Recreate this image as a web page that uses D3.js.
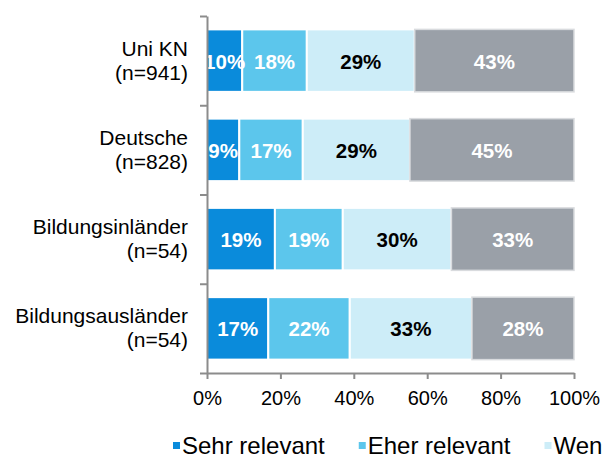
<!DOCTYPE html>
<html>
<head>
<meta charset="utf-8">
<script src="https://cdn.jsdelivr.net/npm/d3@7"></script>
<style>
  html, body { margin: 0; padding: 0; background: #fff; overflow: hidden; }
  text { font-family: "Liberation Sans", Arial, sans-serif; }
</style>
</head>
<body>
<div id="chart"></div>
<script>
const groups = ["Uni KN", "Deutsche", "Bildungsinländer", "Bildungsausländer"];
const sampleSizes = ["(n=941)", "(n=828)", "(n=54)", "(n=54)"];
const categories = ["Sehr relevant", "Eher relevant", "Wenig relevant", "Nicht relevant"];

// shares in percent, one array per answer category (order = groups)
const sehr = [9.6, 8.8, 18.5, 16.7];
const eher = [17.6, 17.3, 18.5, 22.2];
const wenig = [29.4, 29.2, 29.6, 33.3];
const nicht = [43.4, 44.7, 33.4, 27.8];

const xTicks = [0, 20, 40, 60, 80, 100];

const colors = ["#0a8bdb", "#5cc6ec", "#cdedf8", "#9aa0a8"];
const labelColors = ["#fff", "#fff", "#000", "#fff"];

const width = 603, height = 461;
const margin = { top: 16, right: 29, bottom: 88, left: 207 };

const svg = d3.select("#chart")
  .append("svg")
  .attr("width", width)
  .attr("height", height);

const x = d3.scaleLinear()
  .domain([0, 100])
  .range([margin.left, width - margin.right]);

const y = d3.scaleBand()
  .domain(groups)
  .range([margin.top, height - margin.bottom])
  .padding(0);

const yTicks = d3.scaleLinear()
  .domain([0, groups.length])
  .range([margin.top, height - margin.bottom]);

const barH = y.bandwidth() * 0.7;

// stack the series
const rows = groups.map((g, i) => {
  const vals = [sehr[i], eher[i], wenig[i], nicht[i]];
  let acc = 0;
  return vals.map((v, k) => {
    const seg = { group: g, k: k, value: v, x0: acc, x1: acc + v };
    acc += v;
    return seg;
  });
});

const bars = svg.append("g");

rows.forEach((segs) => {
  const g = bars.append("g");
  const yc = y(segs[0].group) + y.bandwidth() / 2;

  g.selectAll("rect")
    .data(segs)
    .enter()
    .append("rect")
    .attr("x", (d) => x(d.x0))
    .attr("y", yc - barH / 2)
    .attr("width", (d) => x(d.x1) - x(d.x0))
    .attr("height", barH)
    .style("fill", (d) => colors[d.k])
    .style("stroke", (d) => (d.k === 3 ? "#d9dbde" : "#fff"))
    .style("stroke-width", (d) => (d.k === 3 ? 1.5 : 2));

  g.selectAll("text")
    .data(segs)
    .enter()
    .append("text")
    .attr("x", (d) => (x(d.x0) + x(d.x1)) / 2)
    .attr("y", yc + 8)
    .attr("text-anchor", "middle")
    .style("font-size", "20.5px")
    .style("font-weight", "bold")
    .style("fill", (d) => labelColors[d.k])
    .text((d) => Math.round(d.value) + "%");
});

// left axis (ticks between categories)
svg.append("g")
  .attr("transform", `translate(${margin.left},0)`)
  .call(d3.axisLeft(yTicks).tickValues(d3.range(0, groups.length + 1)).tickFormat("").tickSize(7).tickSizeOuter(0))
  .call((g) => g.selectAll("path, line").style("stroke", "#8c8c8c").style("stroke-width", 2));

// bottom axis
svg.append("g")
  .attr("transform", `translate(0,${height - margin.bottom})`)
  .call(d3.axisBottom(x).tickValues(xTicks).tickFormat((d) => d + "%").tickSize(6).tickSizeOuter(0))
  .call((g) => g.selectAll("path, line").style("stroke", "#8c8c8c").style("stroke-width", 2))
  .call((g) => g.selectAll("text")
    .attr("y", 0)
    .attr("dy", 0)
    .attr("transform", "translate(0,32)")
    .style("font-size", "20px")
    .style("font-family", "'Liberation Sans', Arial, sans-serif")
    .style("fill", "#000"));

// category labels
const labels = svg.append("g");
groups.forEach((g, i) => {
  const yc = y(g) + y.bandwidth() / 2;
  labels.append("text")
    .attr("x", 188)
    .attr("y", yc - 5)
    .attr("text-anchor", "end")
    .style("font-size", "21px")
    .text(g);
  labels.append("text")
    .attr("x", 188)
    .attr("y", yc + 19)
    .attr("text-anchor", "end")
    .style("font-size", "21px")
    .text(sampleSizes[i]);
});

// legend (runs off the right edge like the original)
const legend = svg.append("g").attr("transform", "translate(173,454)");
let lx = 0;
categories.forEach((c, k) => {
  const item = legend.append("g").attr("transform", `translate(${lx},0)`);
  item.append("rect")
    .attr("x", 0)
    .attr("y", -12)
    .attr("width", 7)
    .attr("height", 7)
    .style("fill", colors[k]);
  const t = item.append("text")
    .attr("x", 9)
    .attr("y", 0)
    .style("font-size", "24px")
    .style("fill", "#000")
    .text(c);
  lx += 9 + t.node().getComputedTextLength() + 34;
});
</script>
</body>
</html>
